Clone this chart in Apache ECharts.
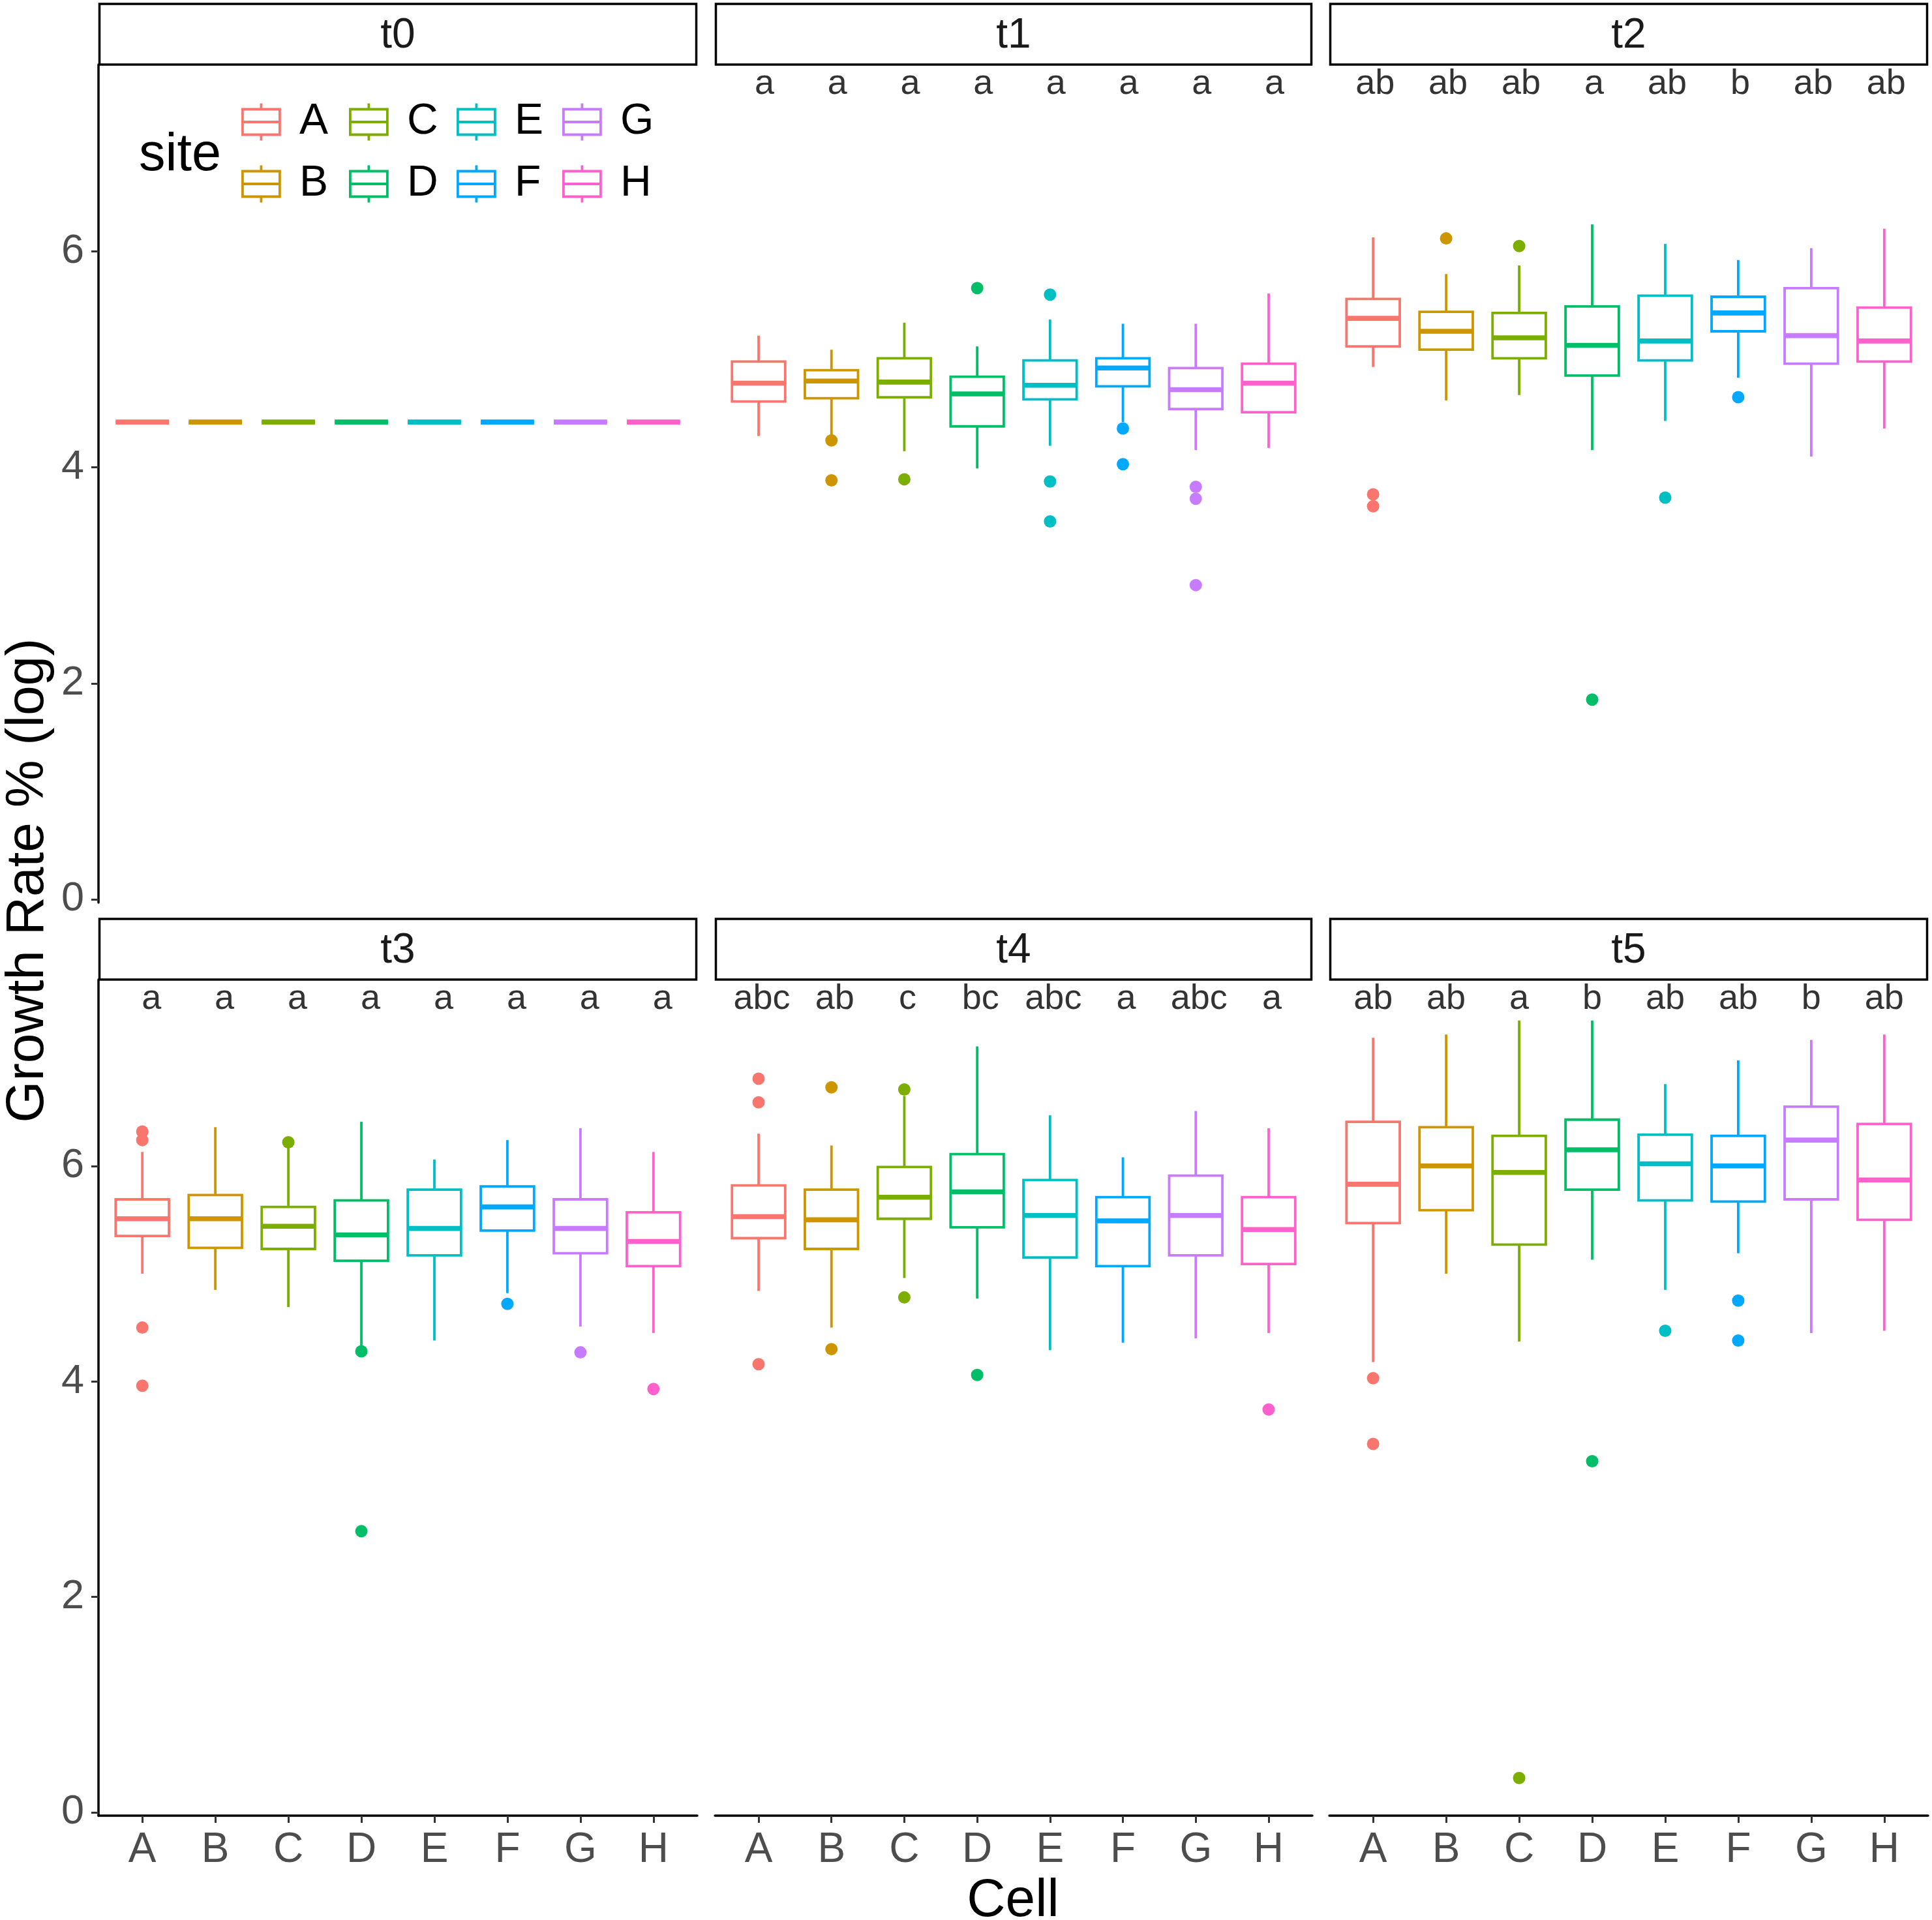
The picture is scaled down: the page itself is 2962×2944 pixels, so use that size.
<!DOCTYPE html>
<html>
<head>
<meta charset="utf-8">
<script src="https://cdn.jsdelivr.net/npm/echarts@6/dist/echarts.min.js"></script>
<style>html,body{margin:0;padding:0;background:#fff}#c{width:2962px;height:2944px}</style>
</head>
<body>
<div id="c"></div>
<script>
const sites = ['A','B','C','D','E','F','G','H'];
const siteColors = ['#F8766D','#CD9600','#7CAE00','#00BE67','#00BFC4','#00A9FF','#C77CFF','#FF61CC'];
const panels = ['t0','t1','t2','t3','t4','t5'];
const yTicks = [0, 2, 4, 6];

// box stats per site: [lower whisker, q1, median, q3, upper whisker]
const t0Box = [[4.42,4.42,4.42,4.42,4.42],[4.42,4.42,4.42,4.42,4.42],[4.42,4.42,4.42,4.42,4.42],[4.42,4.42,4.42,4.42,4.42],
               [4.42,4.42,4.42,4.42,4.42],[4.42,4.42,4.42,4.42,4.42],[4.42,4.42,4.42,4.42,4.42],[4.42,4.42,4.42,4.42,4.42]];
const t1Box = [[4.29,4.61,4.78,4.98,5.22],[4.30,4.64,4.80,4.90,5.09],[4.15,4.65,4.79,5.01,5.34],[3.99,4.38,4.68,4.84,5.12],
               [4.20,4.63,4.76,4.99,5.37],[4.42,4.75,4.92,5.01,5.33],[4.16,4.54,4.72,4.92,5.33],[4.18,4.51,4.78,4.96,5.61]];
const t2Box = [[4.93,5.12,5.38,5.56,6.13],[4.62,5.09,5.26,5.44,5.79],[4.67,5.01,5.20,5.43,5.87],[4.16,4.85,5.13,5.49,6.25],
               [4.43,4.99,5.17,5.59,6.07],[4.83,5.26,5.43,5.58,5.92],[4.10,4.96,5.22,5.66,6.03],[4.36,4.98,5.17,5.48,6.21]];
const t3Box = [[5.00,5.35,5.51,5.69,6.13],[4.85,5.24,5.51,5.73,6.36],[4.69,5.23,5.44,5.62,6.18],[4.33,5.12,5.36,5.68,6.41],
               [4.38,5.17,5.42,5.78,6.06],[4.82,5.40,5.62,5.81,6.24],[4.51,5.19,5.42,5.69,6.35],[4.45,5.07,5.30,5.57,6.13]];
const t4Box = [[4.84,5.33,5.53,5.82,6.30],[4.50,5.23,5.50,5.78,6.19],[4.96,5.51,5.71,5.99,6.65],[4.77,5.43,5.76,6.11,7.11],
               [4.29,5.15,5.54,5.87,6.47],[4.36,5.07,5.49,5.71,6.08],[4.40,5.17,5.54,5.91,6.51],[4.45,5.09,5.41,5.71,6.35]];
const t5Box = [[4.18,5.47,5.83,6.41,7.19],[5.00,5.59,6.00,6.36,7.22],[4.37,5.27,5.94,6.28,7.35],[5.13,5.78,6.15,6.43,7.35],
               [4.85,5.68,6.02,6.29,6.76],[5.19,5.67,6.00,6.28,6.98],[4.45,5.69,6.24,6.55,7.17],[4.47,5.50,5.87,6.39,7.22]];

// outliers: [site index, value]
const t0Out = [];
const t1Out = [[1,4.25],[1,3.88],[2,3.89],[3,5.66],[4,5.60],[4,3.87],[4,3.50],[5,4.36],[5,4.03],[6,3.82],[6,3.71],[6,2.91]];
const t2Out = [[0,3.75],[0,3.64],[1,6.12],[2,6.05],[3,1.85],[4,3.72],[5,4.65]];
const t3Out = [[0,6.32],[0,6.24],[0,4.50],[0,3.96],[2,6.22],[3,4.28],[3,2.61],[5,4.72],[6,4.27],[7,3.93]];
const t4Out = [[0,6.81],[0,6.59],[0,4.16],[1,6.73],[1,4.30],[2,6.71],[2,4.78],[3,4.06],[7,3.74]];
const t5Out = [[0,4.03],[0,3.42],[2,0.32],[3,3.26],[4,4.47],[5,4.75],[5,4.38]];

// significance letters
const t0Letters = [];
const t1Letters = ['a','a','a','a','a','a','a','a'];
const t2Letters = ['ab','ab','ab','a','ab','b','ab','ab'];
const t3Letters = ['a','a','a','a','a','a','a','a'];
const t4Letters = ['abc','ab','c','bc','abc','a','abc','a'];
const t5Letters = ['ab','ab','a','b','ab','ab','b','ab'];
const letterY = 7.55;

const boxes = [t0Box,t1Box,t2Box,t3Box,t4Box,t5Box];
const outs = [t0Out,t1Out,t2Out,t3Out,t4Out,t5Out];
const letters = [t0Letters,t1Letters,t2Letters,t3Letters,t4Letters,t5Letters];

// ---------- layout / style ----------
const FONT = 'Liberation Sans, Arial, sans-serif';
const colsX = [[151,1069],[1096,2012],[2038,2956]];
const rowsY = [[99,1384],[1502,2784]];
const stripH = 93;
const LW = 3.8;
const letterShift = [0, 9, 3, 14, 5, 0];

const grids = [], xAxes = [], yAxes = [], series = [], graphics = [];

panels.forEach((p, i) => {
  const col = i % 3, row = Math.floor(i / 3);
  const [x0, x1] = colsX[col];
  const [y0, y1] = rowsY[row];
  grids.push({left: x0, top: y0, width: x1 - x0, height: y1 - y0, containLabel: false});
  xAxes.push({
    type: 'value', gridIndex: i, min: -0.6, max: 7.6,
    show: row === 1,
    splitLine: {show: false},
    axisLine: {show: true, onZero: false, lineStyle: {color: '#000', width: 3.5}},
    axisTick: {show: true, customValues: sites.map((s, k) => k), length: 11, lineStyle: {color: '#333', width: 3}},
    axisLabel: {show: true, customValues: sites.map((s, k) => k), formatter: v => sites[Math.round(v)],
                fontSize: 64, color: '#4D4D4D', fontFamily: FONT, margin: 21}
  });
  yAxes.push({
    type: 'value', gridIndex: i, min: -0.03, max: 7.73,
    show: col === 0,
    splitLine: {show: false},
    axisLine: {show: true, onZero: false, lineStyle: {color: '#000', width: 3.5}},
    axisTick: {show: true, customValues: yTicks, length: 11, lineStyle: {color: '#333', width: 3}},
    axisLabel: {show: true, customValues: yTicks, fontSize: 63, color: '#4D4D4D', fontFamily: FONT, margin: 22}
  });

  // boxes: one custom series per site so the legend maps to site names
  sites.forEach((s, k) => {
    const b = boxes[i][k];
    series.push({
      type: 'custom', name: s, xAxisIndex: i, yAxisIndex: i,
      itemStyle: {color: siteColors[k]},
      encode: {x: 0, y: [1,2,3,4,5]},
      data: [[k, b[0], b[1], b[2], b[3], b[4]]],
      silent: true,
      renderItem: (params, api) => {
        const x = api.value(0);
        const lo = api.coord([x, api.value(1)]);
        const q1 = api.coord([x, api.value(2)]);
        const md = api.coord([x, api.value(3)]);
        const q3 = api.coord([x, api.value(4)]);
        const hi = api.coord([x, api.value(5)]);
        const hw = api.size([0.73, 0])[0] / 2;
        const c = api.visual('color');
        return {type: 'group', children: [
          {type: 'line', shape: {x1: hi[0], y1: hi[1], x2: q3[0], y2: q3[1]}, style: {stroke: c, lineWidth: LW}},
          {type: 'line', shape: {x1: q1[0], y1: q1[1], x2: lo[0], y2: lo[1]}, style: {stroke: c, lineWidth: LW}},
          {type: 'rect', shape: {x: q3[0] - hw, y: q3[1], width: 2 * hw, height: q1[1] - q3[1]},
           style: {fill: '#fff', stroke: c, lineWidth: LW}},
          {type: 'line', shape: {x1: md[0] - hw, y1: md[1], x2: md[0] + hw, y2: md[1]}, style: {stroke: c, lineWidth: LW * 2}}
        ]};
      }
    });
  });

  // outliers
  series.push({
    type: 'scatter', name: 'outliers_' + p, xAxisIndex: i, yAxisIndex: i,
    symbol: 'circle', symbolSize: 19, silent: true,
    data: outs[i].map(o => ({value: [o[0], o[1]], itemStyle: {color: siteColors[o[0]], opacity: 1}}))
  });

  // letters
  if (letters[i].length) {
    series.push({
      type: 'scatter', name: 'letters_' + p, xAxisIndex: i, yAxisIndex: i,
      symbolSize: 1, itemStyle: {color: 'rgba(0,0,0,0)'}, silent: true,
      data: letters[i].map((t, k) => [k, letterY]),
      label: {show: true, position: 'inside', offset: [letterShift[i], 0],
              formatter: prm => letters[i][prm.dataIndex],
              fontSize: 54, color: '#000', fontFamily: FONT}
    });
  }

  // strip
  const sTop = y0 - stripH;
  graphics.push({type: 'rect', shape: {x: x0 + 1.5, y: sTop, width: x1 - x0 - 3, height: stripH},
                 style: {fill: '#fff', stroke: '#000', lineWidth: 3.5}, z: 10});
  graphics.push({type: 'text', x: (x0 + x1) / 2, y: sTop + stripH / 2 + 3,
                 style: {text: p, fontSize: 64, fontFamily: FONT, fill: '#1a1a1a', align: 'center', verticalAlign: 'middle'}, z: 11});
});

// axis titles
graphics.push({type: 'text', x: 43, y: 1350, rotation: Math.PI / 2,
  style: {text: 'Growth Rate % (log)', fontSize: 82, fontFamily: FONT, fill: '#000', align: 'center', verticalAlign: 'middle'}});
graphics.push({type: 'text', x: 1553, y: 2915,
  style: {text: 'Cell', fontSize: 82, fontFamily: FONT, fill: '#000', align: 'center', verticalAlign: 'middle'}});
// legend title
graphics.push({type: 'text', x: 213, y: 239,
  style: {text: 'site', fontSize: 81, fontFamily: FONT, fill: '#000', align: 'left', verticalAlign: 'middle'}});

// legends: 2 rows x 4 columns, filled by column
const iconPath = 'path://M28.5,0L28.5,9M0,9L57,9L57,48L0,48ZM0,28.5L57,28.5M28.5,48L28.5,57';
const legendColX = [370, 535, 700, 862];
const legendRowY = [154, 249];
const legends = sites.map((s, k) => ({
  data: [{name: s, icon: iconPath, itemStyle: {color: '#fff', borderColor: siteColors[k], borderWidth: LW}}],
  left: legendColX[Math.floor(k / 2)], top: legendRowY[k % 2],
  orient: 'horizontal', padding: 0, itemWidth: 57, itemHeight: 57, selectedMode: false,
  textStyle: {fontSize: 66, color: '#000', fontFamily: FONT, padding: [0, 0, 0, 25]}
}));

const chart = echarts.init(document.getElementById('c'));
chart.setOption({
  backgroundColor: '#fff',
  animation: false,
  textStyle: {fontFamily: FONT},
  grid: grids, xAxis: xAxes, yAxis: yAxes,
  legend: legends,
  series: series,
  graphic: graphics
});
</script>
</body>
</html>
